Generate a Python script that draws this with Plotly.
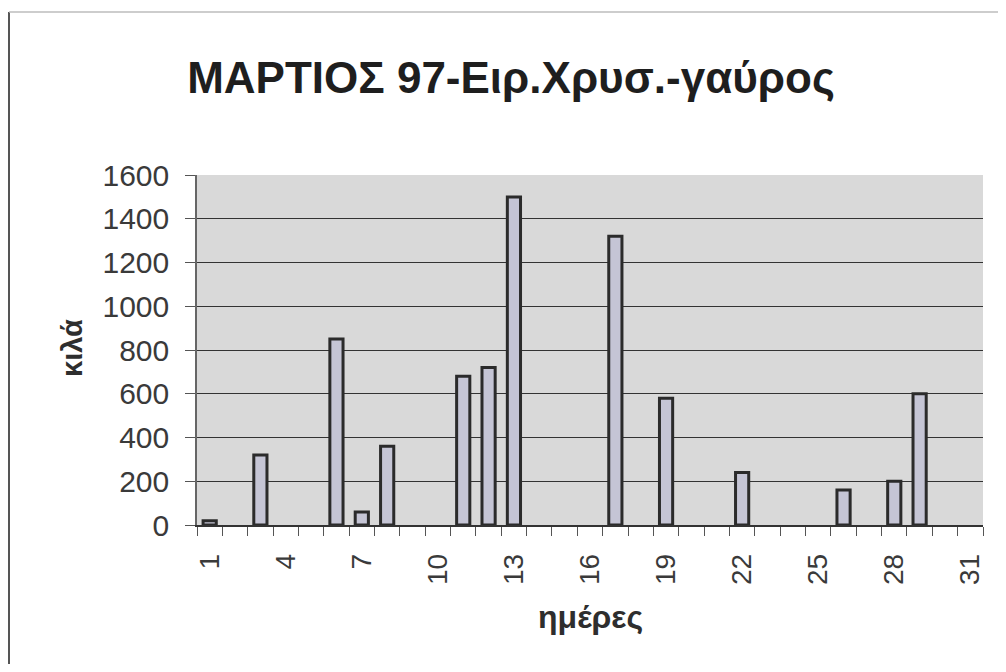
import plotly.graph_objects as go

days = list(range(1, 32))
kilos = [20, None, 320, None, None, 850, 60, 360, None, None, 680, 720, 1500, None, None, None,
         1320, None, 580, None, None, 240, None, None, None, 160, None, 200, 600, None, None]
x_tick_vals = [1, 4, 7, 10, 13, 16, 19, 22, 25, 28, 31]
y_tick_vals = [0, 200, 400, 600, 800, 1000, 1200, 1400, 1600]

title_text = "ΜΑΡΤΙΟΣ 97-Ειρ.Χρυσ.-γαύρος"
x_title = "ημέρες"
y_title = "κιλά"

FONT = "Arial, 'Liberation Sans', sans-serif"

# figure is drawn 8px inside the page (body margin)
W, H = 990, 656
L, T, R, B = 189, 167, 15, 139
PW, PH = W - L - R, H - T - B

fig = go.Figure()
fig.add_trace(go.Bar(
    x=days, y=kilos,
    marker=dict(color="#c5c5d5", line=dict(color="#2b2b2b", width=3)),
    showlegend=False,
))

fig.update_layout(
    width=W, height=H,
    margin=dict(l=L, r=R, t=T, b=B),
    paper_bgcolor="white",
    plot_bgcolor="#d9d9d9",
    bargap=0.48,
    title=dict(text="<b>" + title_text + "</b>", x=503 / W, xanchor="center",
               y=1 - 70 / H, yanchor="middle",
               font=dict(family=FONT, size=44, color="#1e1e1e")),
    font=dict(family=FONT, color="#3a3a3a"),
)

fig.update_xaxes(
    range=[0.5, 31.5],
    tickmode="array", tickvals=x_tick_vals,
    ticktext=[str(v) for v in x_tick_vals],
    tickangle=-90,
    tickfont=dict(family=FONT, size=28, color="#3a3a3a"),
    ticks="",
    ticklabelstandoff=16,
    minor=dict(ticks="outside", tick0=0.5, dtick=1, ticklen=9, tickcolor="#555555", tickwidth=1),
    showgrid=False, zeroline=False,
    showline=True, linecolor="#333333", linewidth=1.5,
)

fig.update_yaxes(
    range=[0, 1600],
    tickmode="array", tickvals=y_tick_vals,
    tickfont=dict(family=FONT, size=30, color="#3a3a3a"),
    ticks="outside", ticklen=10, tickcolor="#555555",
    ticklabelstandoff=10,
    showgrid=True, gridcolor="#333333", gridwidth=1.2,
    zeroline=False,
    showline=True, linecolor="#666666", linewidth=1.5,
)

fig.add_annotation(text="<b>" + x_title + "</b>", xref="paper", yref="paper",
                   x=(590 - 8 - L) / PW, y=(T + PH - (617 - 8)) / PH,
                   xanchor="center", yanchor="middle", showarrow=False,
                   font=dict(family=FONT, size=32, color="#2e2e2e"))
fig.add_annotation(text="<b>" + y_title + "</b>", xref="paper", yref="paper",
                   x=(72 - 8 - L) / PW, y=(T + PH - (348 - 8)) / PH, textangle=-90,
                   xanchor="center", yanchor="middle", showarrow=False,
                   font=dict(family=FONT, size=29, color="#2e2e2e"))

# outer chart frame: left and top edges
fig.add_shape(type="line", xref="paper", yref="paper",
              x0=(1 - L) / PW, x1=(1 - L) / PW,
              y0=(T + PH - 700) / PH, y1=(T + PH - 4) / PH,
              line=dict(color="#555555", width=2), layer="below")
fig.add_shape(type="line", xref="paper", yref="paper",
              x0=(1 - L) / PW, x1=(W - L) / PW,
              y0=(T + PH - 4) / PH, y1=(T + PH - 4) / PH,
              line=dict(color="#bdbdbd", width=1.5), layer="below")

fig.write_html("out.html")
